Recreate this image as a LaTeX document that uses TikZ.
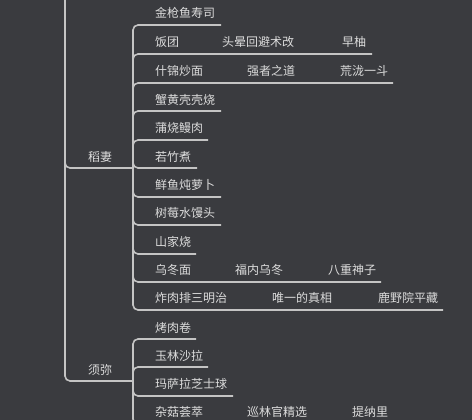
\documentclass[tikz,border=0pt]{standalone}
\usepackage{fontspec}
\newfontfamily\cjk{Noto Sans CJK SC}
\definecolor{bg}{HTML}{3A3B3F}
\definecolor{ln}{HTML}{C4C4C4}
\definecolor{tx}{HTML}{DCDCDC}
\begin{document}
\begin{tikzpicture}[x=1pt,y=-1pt,
  conn/.style={draw=ln,line width=1.6pt,rounded corners=5pt},
  lbl/.style={anchor=west,inner sep=0pt,text=tx,font=\cjk\fontsize{12}{14}\selectfont}]
\fill[bg] (0,0) rectangle (472,420);
\useasboundingbox (0,0) rectangle (472,420);
\clip (0,0) rectangle (472,420);
% root spine and branches
\coordinate (root) at (65,-30);
\coordinate (dq) at (133,168);
\coordinate (xm) at (133,381);
\draw[conn] (root) |- (dq);
\draw[conn] (root) |- (xm);
\node[lbl] (dqt) at (88,157) {稻妻};
\node[lbl] (xmt) at (88,370) {须弥};
% Inazuma children underlines
\foreach \n/\u/\e in {1/25/221,2/54/372,3/83/393,4/111/221,5/140/208,6/168/197,7/197/221,8/225/221,9/254/196,10/282/381,11/310/443}{
  \coordinate (d\n) at (\e,\u);
  \draw[conn] (dq) |- (d\n);
}
% Sumeru children underlines
\foreach \n/\u/\e in {1/339/196,2/367/208,3/396/233,4/424/396}{
  \coordinate (s\n) at (\e,\u);
  \draw[conn] (xm) |- (s\n);
}
% Inazuma texts
\node[lbl] (t1) at (155,13) {金枪鱼寿司};
\node[lbl] (t2a) at (155,42) {饭团};
\node[lbl] (t2b) at (222,42) {头晕回避术改};
\node[lbl] (t2c) at (342,42) {早柚};
\node[lbl] (t3a) at (155,71) {什锦炒面};
\node[lbl] (t3b) at (247,71) {强者之道};
\node[lbl] (t3c) at (340,71) {荒泷一斗};
\node[lbl] (t4) at (155,100) {蟹黄壳壳烧};
\node[lbl] (t5) at (155,128) {蒲烧鳗肉};
\node[lbl] (t6) at (155,157) {若竹煮};
\node[lbl] (t7) at (155,185) {鲜鱼炖萝卜};
\node[lbl] (t8) at (155,213) {树莓水馒头};
\node[lbl] (t9) at (155,242) {山家烧};
\node[lbl] (t10a) at (155,270) {乌冬面};
\node[lbl] (t10b) at (235,270) {福内乌冬};
\node[lbl] (t10c) at (328,270) {八重神子};
\node[lbl] (t11a) at (155,298) {炸肉排三明治};
\node[lbl] (t11b) at (272,298) {唯一的真相};
\node[lbl] (t11c) at (378,298) {鹿野院平藏};
% Sumeru texts
\node[lbl] (u1) at (155,328) {烤肉卷};
\node[lbl] (u2) at (155,356) {玉林沙拉};
\node[lbl] (u3) at (155,384) {玛萨拉芝士球};
\node[lbl] (u4a) at (155,412) {杂菇荟萃};
\node[lbl] (u4b) at (247,412) {巡林官精选};
\node[lbl] (u4c) at (352,412) {提纳里};
\end{tikzpicture}
\end{document}
